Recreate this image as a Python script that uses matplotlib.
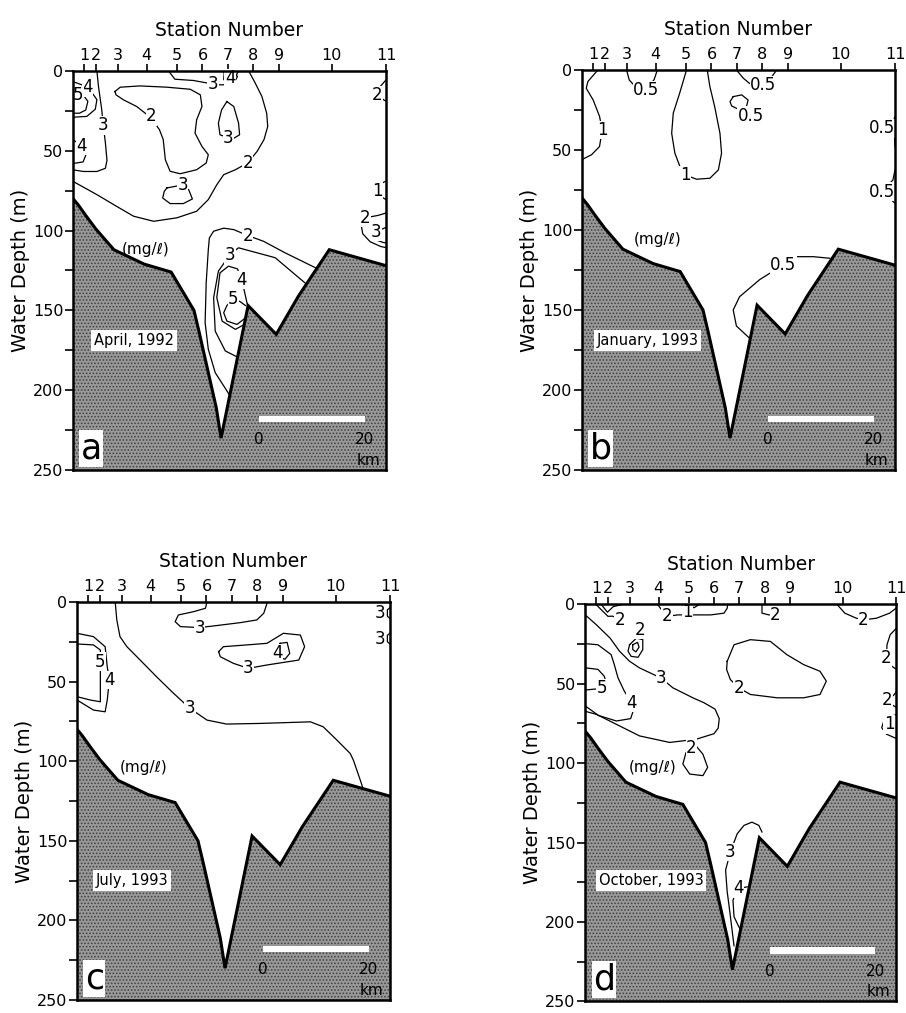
import matplotlib
matplotlib.use('Agg')
import matplotlib.pyplot as plt
from matplotlib.ticker import MultipleLocator

plt.rcParams['font.family'] = ['DejaVu Sans']
plt.rcParams['hatch.linewidth'] = 0.8

# station positions along the section (km from left end)
stations = [2.1, 4.3, 8.5, 13.9, 19.6, 24.4, 29.2, 34.0, 38.9, 48.8, 59.0]
station_labels = ['1', '2', '3', '4', '5', '6', '7', '8', '9', '10', '11']

# sea floor profile (km, depth m)
prof_km = [0, 1.0, 2.5, 4.3, 7.7, 13.4, 18.5, 22.8, 23.8, 27.0, 27.9, 33.0, 38.3, 42.5, 48.3, 59.0]
prof_depth = [80, 84, 91, 99, 112, 121, 126, 150, 164, 211, 230, 147, 165, 141, 112, 122]

# ---- isolines (km list, depth list) and labels (text, km, depth) ----
# a: April 1992
a_lines = [
    ([0, 1.9, 3.2, 4.5, 4.2, 2.6, 0], [6.7, 9, 11.9, 18, 24, 28.5, 29]),
    ([0, 1.0, 2.0, 2.8, 2.4, 1.2, 0], [15, 15, 15.5, 19, 24.5, 26.5, 26.5]),
    ([4.5, 4.8, 5.4, 5.7, 6.1, 6.4, 6.1, 4.5, 2, 0], [0, 9.8, 24, 34, 45, 56, 61, 63, 63, 62]),
    ([0, 1.6, 2.5, 1.9, 0], [43, 47, 52, 57, 58]),
    ([7.9, 8.9, 12.6, 17.7, 22.1, 24, 24.3, 23.3, 23, 24.3, 25.5, 25.1, 23.3, 20.2, 18.3, 17.4, 17, 16.3,
      14.8, 12, 9.5, 8.1, 7.9],
     [12.9, 10.2, 9.4, 10.2, 11.5, 15, 22.3, 30.6, 39, 47.3, 52.5, 57.7, 61.9, 64.4, 62.9, 55.6, 43, 36.9,
      29.6, 22.3, 18.1, 15, 12.9]),
    ([18, 19.2, 22.7, 25.5, 26.6, 28.4, 30.3, 31.2], [0, 5.2, 6, 7.7, 8.7, 8.7, 5.6, 0]),
    ([28.5, 30.3, 31, 30.3, 29, 28.4, 28.5], [1, 0.4, 3.5, 7.7, 8.1, 5.2, 1]),
    ([33.1, 34.2, 35.6, 36.5, 36.7, 36, 34.7, 32.9, 30.6, 28.4, 27.1, 25.5, 23.3, 19.6, 15.2, 11.4, 8.2, 4.5, 0],
     [0, 6.7, 16, 26.5, 34.8, 43, 50.4, 57.7, 61.9, 65, 71.3, 80.6, 87.9, 92, 94.2, 91, 84.8, 77.5, 69.2]),
    ([17.7, 19.9, 21.8, 22.5, 20.8, 18.3, 16.9, 17.2, 17.7], [73.3, 71.9, 74.4, 80.2, 83.1, 83.1, 79.6, 75.4, 73.3]),
    ([29, 30.3, 31.2, 31.4, 29.9, 29.3, 27.7, 27.4, 28, 29], [19.2, 22.3, 32.7, 40, 43, 42, 40, 32.7, 24.4, 19.2]),
    ([59, 57.9, 57.3, 58.5, 59], [5.6, 9.8, 15, 18, 19]),
    ([59, 57, 57.3, 57.9, 59], [69, 72.3, 75.4, 78.5, 80.6]),
    ([59, 57.5, 55.1, 54.3, 54.6, 56, 58, 59.5], [89, 90.5, 92, 96, 102, 107, 110, 111]),
    ([59, 57.2, 56.6, 57.2, 58.5, 59.5], [98, 100.6, 103, 106, 107.5, 108]),
    ([45.7, 40, 35.9, 32.9, 30.3, 28.4, 26.5, 25.7, 25.5, 25.1, 24.9, 25.5, 26.8, 29.6],
     [123.3, 114, 106.7, 103.1, 99.4, 98.5, 100.4, 104.6, 111.9, 132.7, 157.7, 174.4, 189, 203.5]),
    ([43.8, 38.1, 31.2, 29.6, 27.4, 26.5, 26.8, 28.7, 31.2], [133, 117, 110.8, 115, 125.4, 142, 163, 175.4, 179.6]),
    ([32.9, 32.3, 31.8, 31, 29.3, 27.7, 27.1, 28.1, 30.6, 32.2], [147, 138, 131, 124, 122.3, 126.5, 142, 156.7, 161.9, 159]),
    ([32.5, 31.5, 30.2, 29.0, 28.4, 29, 30.9, 32.4], [147, 144.5, 143, 147, 151.5, 156.7, 158.8, 155]),
]
a_labels = [('4', 2.7, 10.2), ('5', 1.0, 15), ('3', 5.7, 34), ('4', 1.6, 47), ('2', 14.8, 28.5),
            ('3', 26.4, 8.5), ('4', 29.6, 4.5), ('2', 32.9, 57.7), ('3', 20.7, 71.3), ('3', 29.3, 42),
            ('2', 57.3, 15), ('1', 57.3, 75.4), ('2', 55.1, 92), ('3', 57.2, 100.6), ('2', 32.9, 103.2),
            ('3', 29.6, 115), ('4', 31.8, 131), ('5', 30.2, 143)]

# b: January 1993
b_lines = [
    ([3.0, 1.1, 0.8, 2.1, 3.3, 3.8, 3.3, 1.8, 0], [0, 7.3, 11.5, 18.8, 29, 37.5, 47.9, 53, 56]),
    ([8.4, 8.9, 9.8, 12.1, 13.6, 14.2], [0, 6.3, 9.5, 12.5, 6, 0]),
    ([19.7, 18.4, 17.2, 16.9, 17.5, 18.7, 19.4, 21.6, 24.1, 25.7, 26.3, 26, 25, 24.1, 23.6],
     [0, 14.6, 27, 39.6, 52, 62.5, 65.6, 68.3, 67.7, 62.5, 52, 39.6, 22.9, 10.4, 0]),
    ([29.1, 30.4, 31.6, 34.2, 35.6, 36.6], [0, 5.2, 8.5, 9.4, 5, 0.5]),
    ([28.5, 30.1, 31.3, 31, 29.7, 28.2, 27.9, 28.5], [16.7, 15.6, 18.8, 22.9, 25, 22.5, 19.8, 16.7]),
    ([59, 58.6, 56.5, 58.9, 59], [29, 33, 36.5, 41.7, 48]),
    ([59, 58.6, 56.5, 59], [62.5, 68.8, 76, 83.3]),
    ([46.7, 43.6, 40.4, 37.9, 33.5, 29.7, 28.5, 29.1, 31.6], [117.7, 116.7, 116.7, 121.9, 131, 141.7, 150, 160, 167.7]),
]
b_labels = [('1', 3.8, 37.5), ('0.5', 12.1, 12.5), ('1', 19.4, 65.6), ('0.5', 34.2, 9.4),
            ('0.5', 31.8, 28.5), ('0.5', 56.5, 36.5), ('0.5', 56.5, 76), ('0.5', 37.9, 121.9)]

# c: July 1993
c_lines = [
    ([7.2, 7.5, 8.1, 9.4, 11.9, 15, 18.2, 21.3, 24.5, 28.2, 34.5, 44, 46.4, 49, 51.5, 52.1, 53.4, 53.9],
     [0, 11.3, 21.8, 28.1, 36.5, 47, 57.4, 66.9, 74.2, 76.7, 76.3, 75.3, 78.4, 86.8, 95.2, 99.4, 112, 117]),
    ([24.5, 24.2, 22, 19.1, 18.5, 19.5, 23.1, 25.7, 30.8, 33.9, 35.2, 35.9],
     [0, 4, 6.1, 8.2, 12.4, 15.5, 16.1, 15.1, 13, 11.3, 7.1, 0]),
    ([26.7, 27.6, 32, 35.8, 38.9, 42.1, 42.9, 41.8, 35.8, 32.3, 29.5, 27, 26.7],
     [31.2, 28.1, 27, 26, 19.7, 20.8, 28.1, 36.5, 39.6, 41.7, 38.6, 34.4, 31.2]),
    ([38.3, 39.6, 40.1, 39.2, 37.9, 37.5, 38.3], [26, 25.4, 32.3, 36, 34.4, 30, 26]),
    ([0, 3.1, 4.4, 4.4, 4.4, 4.4, 2.5, 0], [26.4, 27, 30.2, 37.5, 49, 62.7, 61.6, 59.5]),
    ([0, 3.1, 5.3, 5.7, 6.1, 5.7, 5.3, 3.1, 0], [19.7, 21.8, 28.1, 40.7, 49, 61.6, 69, 67.9, 61.6]),
    ([59.2, 58.5, 58.5, 59.2], [3, 5, 9, 11]),
    ([59.2, 58.5, 58.5, 59.2], [19, 21, 25, 27]),
]
c_labels = [('3', 21.3, 66.9), ('3', 23.1, 16.1), ('3', 32.3, 41.7), ('4', 37.7, 32),
            ('5', 4.4, 37.5), ('4', 6.1, 49), ('3', 57.2, 7), ('3', 57.2, 23)]

# d: October 1993
d_lines = [
    ([2.0, 3.2, 4.3, 5.2, 6.6], [0, 4, 7.6, 7.5, 9.6]),
    ([3.0, 4.2, 5.3, 7.2], [0, 5, 1.5, 0]),
    ([0, 2.1, 4.7, 6.5, 8.4, 10.3, 14.4, 16.6, 20.4, 22.5, 24.6, 25.4, 25.2, 24.4, 21, 16, 10.3, 5.9, 2.1, 0],
     [6.7, 12.9, 21.3, 29.6, 35.9, 40.1, 46.5, 52.6, 58.9, 62, 66, 72, 78, 81.5, 85, 87, 82.9, 75.6, 69.3, 67.4]),
    ([0, 2.4, 4.9, 5.5, 6.2, 7.4, 8.8, 9.0, 8.6, 5.9, 2.5, 0], [24.8, 25.5, 31.7, 38, 46.3, 54.7, 62, 68, 72, 73.5, 70, 64]),
    ([0, 2.4, 3.6, 4.0, 3.1, 1.5, 0], [40, 41, 45.3, 50, 53, 53.5, 54]),
    ([8.4, 9.7, 10.9, 10.9, 10, 8.7, 8.1, 8.4], [25.5, 21.3, 22.3, 28.6, 33.4, 32.8, 29.6, 25.5]),
    ([9.0, 9.9, 10.2, 9.6, 9.0, 9.0], [25.5, 24, 27, 30, 28.5, 25.5]),
    ([13.7, 14.7, 15.5, 17.5, 20, 23.8, 26.3, 26.9, 27], [0, 4.6, 7.7, 6.7, 6.7, 6.7, 5.6, 2.5, 0]),
    ([19.8, 20.6, 21.7], [0, 2.2, 0]),
    ([33.5, 33.5, 34.8, 36], [0.4, 5.6, 6.7, 6.7]),
    ([47.7, 49.2, 51.4, 52.7, 55.2, 57.7, 59.3], [0, 5.6, 8.8, 9.8, 8.8, 5.6, 1.5]),
    ([59, 57.8, 57.2, 57.1, 58.1, 59], [15, 19.2, 25.5, 33.8, 39, 41]),
    ([59, 58.4, 57.2, 58, 59], [55, 57.5, 60.1, 63, 65]),
    ([59.3, 56.8, 56.2, 57.1, 59.3], [69.3, 71.4, 77.7, 81.8, 85]),
    ([26.9, 28.2, 31.3, 35.1, 38.2, 41.4, 44.5, 45.7, 44.5, 41.4, 36.4, 31.3, 29.1, 27.5, 26.8, 26.9],
     [35.9, 25.5, 22.3, 23.4, 31.7, 38, 42.2, 48.4, 56.8, 58.9, 58.9, 56.8, 52.6, 47.4, 41.1, 35.9]),
    ([21, 19.1, 18.5, 19.8, 22.3, 23.2, 22.3, 21], [89.2, 93.3, 100.6, 106.9, 107.9, 102.7, 94.4, 89.2]),
    ([33.5, 32.9, 31.6, 30.1, 28.8, 27.5, 26.6, 26.9, 27.2, 28.2], [143.4, 139.2, 137.2, 139.2, 144.5, 156, 167.4, 180.9, 188.3, 215]),
    ([30.7, 29.1, 28.8, 28, 28.2, 29.1, 29.7], [177.9, 178.9, 179.9, 186.3, 196.7, 203, 206.1]),
]
d_labels = [('2', 6.6, 9.6), ('3', 14.4, 46.5), ('4', 8.8, 62), ('5', 3.1, 53), ('2', 10.3, 16.1),
            ('2', 15.5, 7.7), ('1', 19.4, 5.0), ('2', 36, 6.7), ('2', 52.7, 9.8), ('2', 57.1, 33.8),
            ('2', 57.2, 60.1), ('1', 57.6, 75.5), ('2', 29.1, 52.6), ('2', 20.1, 90.2),
            ('3', 27.5, 156), ('4', 29.1, 178.9)]

panels = [
    ('a', 'April, 1992', a_lines, a_labels, (11.5, 169), (13.6, 112), [0.0806, 0.536, 0.3455, 0.394]),
    ('b', 'January, 1993', b_lines, b_labels, (12.3, 169), (14.3, 106), [0.6424, 0.536, 0.3455, 0.395]),
    ('c', 'July, 1993', c_lines, c_labels, (10.4, 175), (12.5, 104), [0.085, 0.0128, 0.3455, 0.393]),
    ('d', 'October, 1993', d_lines, d_labels, (12.5, 174), (12.8, 103), [0.646, 0.0115, 0.3435, 0.392]),
]

fig = plt.figure(figsize=(9.06, 10.13), dpi=100)

for letter, month, lines, labels, month_xy, mg_xy, pos in panels:
    ax = fig.add_axes(pos)
    ax.set_xlim(0, 59)
    ax.set_ylim(250, 0)

    for xs, ys in lines:
        ax.plot(xs, ys, color='black', lw=0.9, zorder=2)
    for s, x, y in labels:
        ax.text(x, y, s, ha='center', va='center', fontsize=12, zorder=3,
                bbox=dict(facecolor='white', edgecolor='none', pad=0.2))

    # sea floor
    ax.fill_between(prof_km, prof_depth, 250, facecolor='#999999', edgecolor='#444444',
                    hatch='.....', linewidth=0, zorder=4)
    ax.plot(prof_km, prof_depth, color='black', lw=2.2, zorder=5, solid_joinstyle='miter')

    ax.text(mg_xy[0], mg_xy[1], '(mg/ℓ)', ha='center', va='center', fontsize=11, zorder=6)
    ax.text(month_xy[0], month_xy[1], month, ha='center', va='center', fontsize=10.5, zorder=6,
            bbox=dict(facecolor='white', edgecolor='none', pad=2))
    ax.text(0.025, 0.012, letter, transform=ax.transAxes, ha='left', va='bottom', fontsize=25,
            zorder=6, bbox=dict(facecolor='white', edgecolor='none', pad=1))

    # scale bar
    ax.fill_between([35, 55], [216, 216], [220, 220], facecolor='white', edgecolor='none', zorder=6)
    ax.text(35, 231, '0', ha='center', va='center', fontsize=11, zorder=6)
    ax.text(55, 231, '20', ha='center', va='center', fontsize=11, zorder=6)
    ax.text(55.6, 244, 'km', ha='center', va='center', fontsize=11, zorder=6)

    # axes
    ax.yaxis.set_major_locator(MultipleLocator(50))
    ax.yaxis.set_minor_locator(MultipleLocator(25))
    ax.set_xticks(stations)
    ax.set_xticklabels(station_labels)
    ax.xaxis.set_ticks_position('top')
    ax.xaxis.set_label_position('top')
    ax.tick_params(axis='x', direction='out', length=5, width=1.2, labelsize=11.5, pad=1)
    ax.tick_params(axis='y', which='major', direction='out', length=6, width=1.2, labelsize=11.5, pad=1)
    ax.tick_params(axis='y', which='minor', direction='out', length=6, width=1.2)
    ax.set_xlabel('Station Number', fontsize=13.5, labelpad=8)
    ax.set_ylabel('Water Depth (m)', fontsize=14, labelpad=2)
    for sp in ax.spines.values():
        sp.set_linewidth(1.8)
        sp.set_zorder(7)

fig.savefig('out.png', dpi=100)
